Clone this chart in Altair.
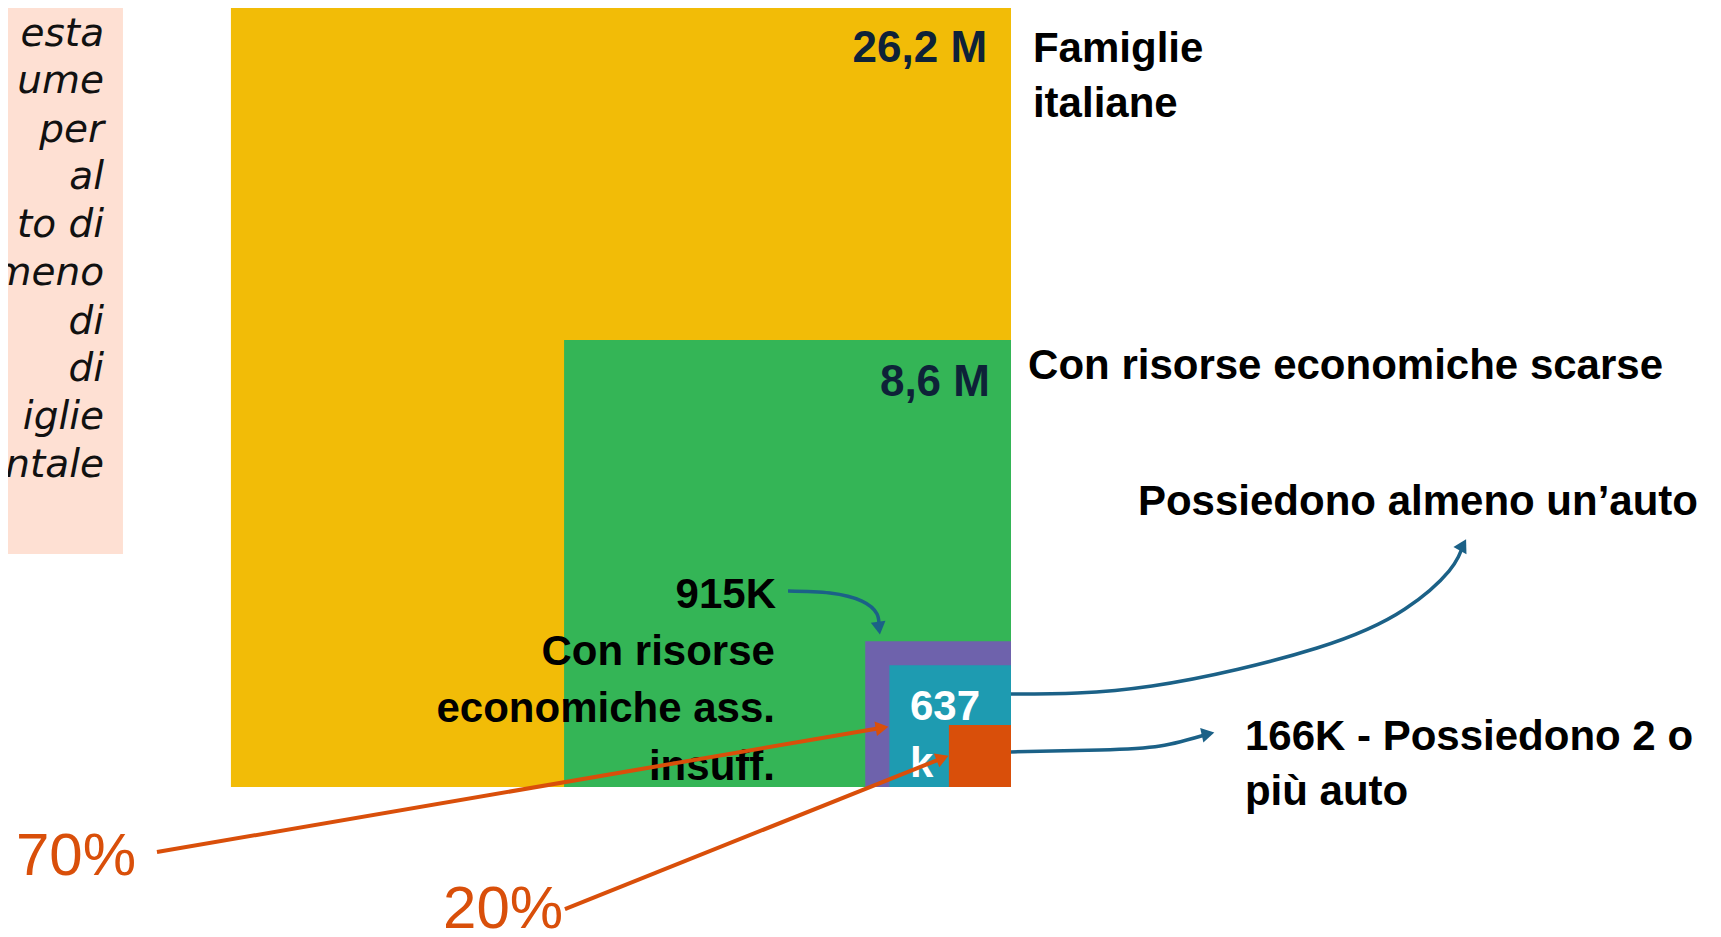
import altair as alt
import pandas as pd

# ---------------- data ----------------
groups = ["Famiglie italiane", "Con risorse economiche scarse",
          "Con risorse economiche ass. insuff.", "Possiedono almeno un’auto",
          "Possiedono 2 o più auto"]
households_m = [26.2, 8.6, 0.915, 0.637, 0.166]
square_colors = ["#F2BC07", "#34B556", "#6E62AC", "#1E9BB1", "#D94F0A"]

value_labels = ["26,2 M", "8,6 M"]
share_labels = ["70%", "20%"]

side_text = ["esta", "ume", "per", "al", "to di", "meno", "di", "di", "iglie", "ntale"]

# ---------------- styling ----------------
BLUE = "#1B6187"
ORANGE = "#D94F0A"
NAVY = "#0E2238"
PINK = "#FEE0D3"
BOLD = "Liberation Sans"

# units: sqrt(million households); origin = common bottom-right corner of the squares
xs = alt.Scale(domain=[-6.5814, 4.6063], nice=False, zero=False)
ys = alt.Scale(domain=[-0.9318, 5.1115], nice=False, zero=False)

def X(f="x"):
    return alt.X(f"{f}:Q", scale=xs, axis=None)

def Y(f="y"):
    return alt.Y(f"{f}:Q", scale=ys, axis=None)

# side box (cut off at the left)
box = alt.Chart(pd.DataFrame({"x": [-6.75], "x2": [-5.827], "y": [1.529], "y2": [5.3]})).mark_rect(
    color=PINK).encode(x=X(), x2="x2:Q", y=Y(), y2="y2:Q")

box_y = [4.862, 4.554, 4.232, 3.924, 3.609, 3.294, 2.973, 2.664, 2.349, 2.034]
box_text = alt.Chart(pd.DataFrame({"t": side_text, "x": [-5.951] * len(side_text), "y": box_y})).mark_text(
    align="right", baseline="alphabetic", font="DejaVu Sans", fontStyle="italic",
    fontSize=39, color="#111111").encode(x=X(), y=Y(), text="t:N")

# nested squares, area proportional to households
sq = pd.DataFrame({"group": groups, "value": households_m})
squares = alt.Chart(sq).transform_calculate(
    side="sqrt(datum.value)", neg="-sqrt(datum.value)"
).mark_rect().encode(
    x=X("neg"), x2=alt.datum(0), y=Y("side"), y2=alt.datum(0),
    color=alt.Color("group:N", scale=alt.Scale(domain=groups, range=square_colors), legend=None),
)

# value labels inside big squares
vals = alt.Chart(pd.DataFrame({"t": value_labels, "x": [-0.157, -0.138], "y": [4.757, 2.566]})).mark_text(
    align="right", baseline="alphabetic", font=BOLD, fontWeight="bold", fontSize=44, color=NAVY
).encode(x=X(), y=Y(), text="t:N")

# black labels, left aligned
left_lab = pd.DataFrame({
    "t": ["Famiglie", "italiane", "Con risorse economiche scarse", "Possiedono almeno un’auto",
          "166K - Possiedono 2 o", "più auto"],
    "x": [0.144, 0.144, 0.112, 0.833, 1.535, 1.535],
    "y": [4.757, 4.396, 2.677, 1.785, 0.243, -0.118],
})
labs_l = alt.Chart(left_lab).mark_text(
    align="left", baseline="alphabetic", font=BOLD, fontWeight="bold", fontSize=42, color="#000000"
).encode(x=X(), y=Y(), text="t:N")

# black labels, right aligned (915K)
right_lab = pd.DataFrame({
    "t": ["915K", "Con risorse", "economiche ass.", "insuff."],
    "x": [-1.542, -1.549, -1.549, -1.549],
    "y": [1.175, 0.801, 0.427, 0.046],
})
labs_r = alt.Chart(right_lab).mark_text(
    align="right", baseline="alphabetic", font=BOLD, fontWeight="bold", fontSize=42, color="#000000"
).encode(x=X(), y=Y(), text="t:N")

# white label in teal square
white_lab = alt.Chart(pd.DataFrame({"t": ["637", "k"], "x": [-0.663, -0.663], "y": [0.44, 0.066]})).mark_text(
    align="left", baseline="alphabetic", font=BOLD, fontWeight="bold", fontSize=42, color="#FFFFFF"
).encode(x=X(), y=Y(), text="t:N")

# orange percentages
pct = alt.Chart(pd.DataFrame({"t": share_labels, "x": [-6.529, -3.727], "y": [-0.577, -0.925]})).mark_text(
    align="left", baseline="alphabetic", font="Liberation Sans", fontSize=60, color=ORANGE
).encode(x=X(), y=Y(), text="t:N")

# orange straight arrows
o_lines = pd.DataFrame({
    "a": ["p70", "p70", "p20", "p20"],
    "o": [0, 1, 0, 1],
    "x": [-5.604, -0.846, -2.927, -0.449],
    "y": [-0.427, 0.389, -0.801, 0.190],
})
orange_lines = alt.Chart(o_lines).mark_line(color=ORANGE, strokeWidth=4).encode(
    x=X(), y=Y(), detail="a:N", order="o:Q")

# blue curved arrows
b_lines = pd.DataFrame({
    "a": ["k915"] * 5 + ["k637"] * 6 + ["k166"] * 4,
    "o": list(range(5)) + list(range(6)) + list(range(4)),
    "x": [-1.463, -1.188, -0.978, -0.879, -0.866,
          0.0, 0.925, 2.008, 2.585, 2.874, 2.966,
          0.0, 0.584, 0.978, 1.293],
    "y": [1.286, 1.273, 1.220, 1.135, 1.043,
          0.610, 0.663, 0.912, 1.168, 1.417, 1.588,
          0.230, 0.243, 0.269, 0.348],
})
blue_lines = alt.Chart(b_lines).mark_line(color=BLUE, strokeWidth=3.5, interpolate="natural").encode(
    x=X(), y=Y(), detail="a:N", order="o:Q")

heads = pd.DataFrame({
    "x": [-0.846, -0.449, -0.866, 2.966, 1.293],
    "y": [0.389, 0.190, 1.043, 1.588, 0.348],
    "ang": [350.3, 338.1, 82.0, 298.6, 347.5],
    "c": [ORANGE, ORANGE, BLUE, BLUE, BLUE],
})
arrowheads = alt.Chart(heads).mark_point(shape="triangle-right", filled=True, opacity=1, size=220).encode(
    x=X(), y=Y(), angle=alt.Angle("ang:Q", scale=None), color=alt.Color("c:N", scale=None))

chart = alt.layer(
    box, box_text, squares, vals, labs_l, labs_r, white_lab,
    orange_lines, blue_lines, arrowheads, pct,
).properties(
    width=1705, height=921, padding=0,
    autosize=alt.AutoSizeParams(type="none"),
    background="#FFFFFF",
).configure_view(strokeWidth=0)

chart.save("out.html", embed_options={"renderer": "svg", "actions": False})
